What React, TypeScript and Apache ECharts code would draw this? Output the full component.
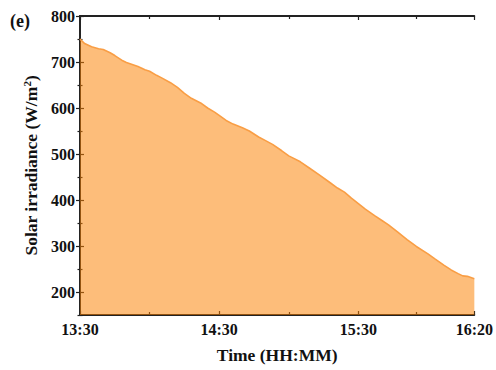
import React, { useEffect, useRef } from "react";
import * as echarts from "echarts";

// minutes after 13:30
const minutes = [0, 2, 5, 8, 10, 13, 15, 18, 20, 25, 28, 30, 33, 35, 39, 42, 45, 48, 52, 55, 58, 60, 63, 66, 70, 73, 77, 80, 83, 87, 90, 95, 99, 103, 108, 111, 114, 117, 120, 123, 127, 130, 133, 137, 141, 145, 150, 153, 157, 160, 163, 165, 167, 170];
const irradiance = [750, 740, 733, 729, 727, 720, 714, 704, 699, 690, 683, 680, 671, 666, 655, 645, 632, 621, 611, 600, 591, 584, 573, 565, 557, 550, 537, 529, 521, 507, 496, 483, 469, 455, 437, 426, 417, 404, 392, 380, 366, 356, 346, 330, 314, 299, 283, 272, 258, 248, 240, 235, 234, 229];

const xMajor = [0, 60, 120, 170];
const xMinor = [30, 90, 145];
const xTickLabels = ["13:30", "14:30", "15:30", "16:20"];
const yMajor = [200, 300, 400, 500, 600, 700, 800];
const yMinor = [150, 250, 350, 450, 550, 650, 750];

const FONT = "'Liberation Serif', 'Times New Roman', serif";

export default function App() {
  const ref = useRef<HTMLDivElement>(null);
  useEffect(() => {
    document.body.style.margin = "0";
    if (!ref.current) return;
    const chart = echarts.init(ref.current, null, { renderer: "svg" });
    const axisLine = { show: true, lineStyle: { color: "#222", width: 1.8 } };
    const labelStyle = { fontFamily: FONT, fontWeight: "bold" as const, fontSize: 16, color: "#111" };
    const xBase = (pos: "bottom" | "top", minor: boolean, labels: boolean) => ({
      type: "value" as const,
      position: pos,
      min: 0,
      max: 170,
      splitLine: { show: false },
      axisLine: minor ? { show: false } : axisLine,
      axisTick: {
        show: true,
        inside: true,
        length: minor ? 3 : 4,
        customValues: minor ? xMinor : xMajor,
        lineStyle: { color: "#222", width: 1.2 },
      },
      axisLabel: labels
        ? {
            show: true,
            customValues: xMajor,
            margin: 6,
            ...labelStyle,
            formatter: (v: number) => xTickLabels[xMajor.indexOf(v)] ?? "",
          }
        : { show: false },
    });
    const yBase = (pos: "left" | "right", minor: boolean, labels: boolean) => ({
      type: "value" as const,
      position: pos,
      min: 150,
      max: 800,
      splitLine: { show: false },
      axisLine: minor ? { show: false } : axisLine,
      axisTick: {
        show: true,
        inside: true,
        length: minor ? 2.5 : 4,
        customValues: minor ? yMinor : yMajor,
        lineStyle: { color: "#222", width: 1.2 },
      },
      axisLabel: labels
        ? { show: true, customValues: yMajor, margin: 5, ...labelStyle }
        : { show: false },
    });
    const xMain: any = {
      ...xBase("bottom", false, true),
      name: "Time (HH:MM)",
      nameLocation: "middle",
      nameGap: 31,
      nameTextStyle: { fontFamily: FONT, fontWeight: "bold", fontSize: 17.5, color: "#111" },
    };
    const yMain: any = {
      ...yBase("left", false, true),
      name: "Solar irradiance (W/m{sup|2})",
      nameLocation: "middle",
      nameGap: 35,
      nameTextStyle: {
        fontFamily: FONT,
        fontWeight: "bold",
        fontSize: 17.5,
        color: "#111",
        rich: {
          sup: { fontFamily: FONT, fontWeight: "bold", fontSize: 11, color: "#111", verticalAlign: "top", padding: [0, 0, 8, 0] },
        },
      },
    };
    chart.setOption({
      animation: false,
      backgroundColor: "#fff",
      grid: { left: 80, right: 21, top: 16, bottom: 55 },
      graphic: [
        {
          type: "text",
          left: 10,
          top: 12,
          style: { text: "(e)", fontFamily: FONT, fontWeight: "bold", fontSize: 18, fill: "#111" },
        },
      ],
      xAxis: [xMain, xBase("bottom", true, false), xBase("top", false, false), xBase("top", true, false)],
      yAxis: [yMain, yBase("left", true, false), yBase("right", false, false), yBase("right", true, false)],
      series: [
        {
          type: "line",
          xAxisIndex: 0,
          yAxisIndex: 0,
          data: minutes.map((m, i) => [m, irradiance[i]]),
          showSymbol: false,
          lineStyle: { color: "#F99E45", width: 1.6 },
          areaStyle: { color: "rgba(252,128,0,0.52)", origin: "start", opacity: 1 },
        },
      ],
    });
    return () => chart.dispose();
  }, []);
  return <div ref={ref} style={{ width: 496, height: 370 }} />;
}
